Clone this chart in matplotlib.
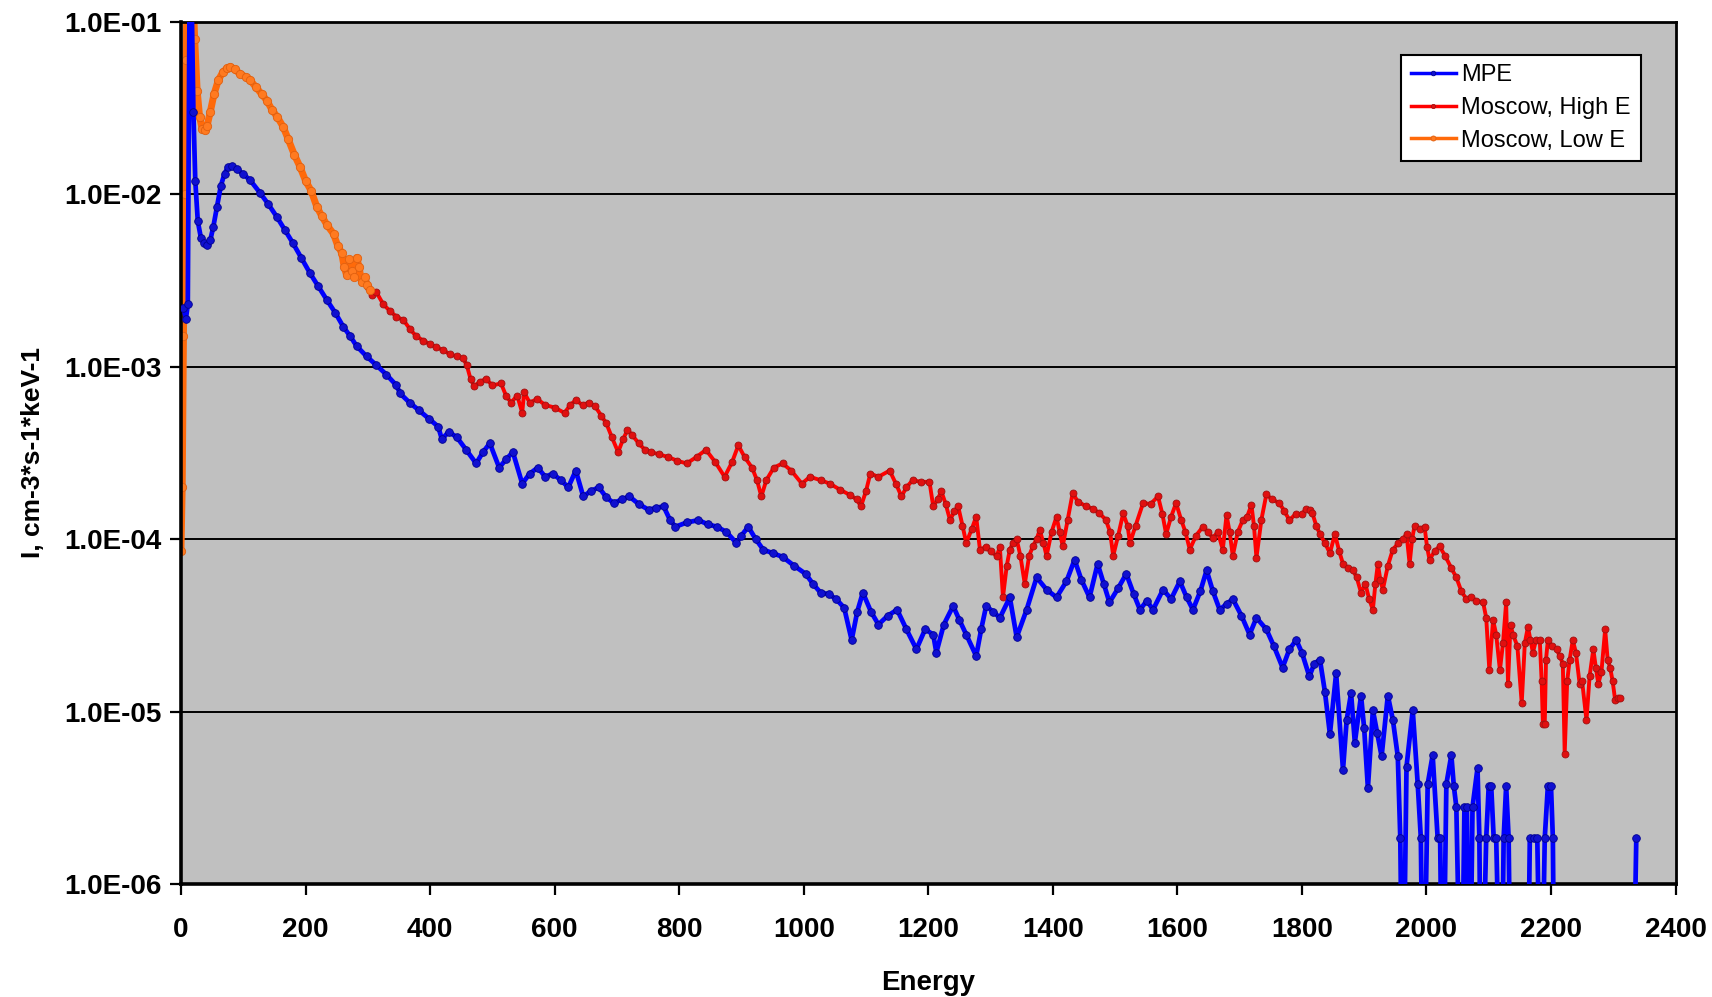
import matplotlib

matplotlib.use("Agg")

import matplotlib.pyplot as plt
import numpy as np
from matplotlib.ticker import FixedLocator, FuncFormatter, NullLocator

# values (zeros are empty channels)
mpe_energy = [
    4, 8, 11, 14, 17, 20, 23, 27, 32, 37, 42, 47, 52, 58, 64, 70, 76, 82, 90, 100,
    111, 127, 140, 154, 167, 180, 193, 207, 220, 234, 248, 261, 272, 282, 298, 314, 330, 346, 352, 367,
    382, 398, 413, 419, 430, 443, 458, 474, 485, 496, 511, 522, 533, 548, 560, 573, 585, 597, 610, 622,
    634, 646, 658, 671, 683, 695, 708, 720, 735, 751, 763, 775, 785, 794, 812, 831, 846, 861, 876, 892,
    900, 911, 923, 935, 950, 966, 985, 1003, 1015, 1027, 1040, 1052, 1065, 1077, 1086, 1095, 1108, 1120, 1135, 1150,
    1165, 1181, 1195, 1208, 1213, 1225, 1240, 1250, 1261, 1277, 1285, 1293, 1304, 1315, 1331, 1342, 1358, 1374, 1390, 1406,
    1422, 1435, 1446, 1459, 1472, 1482, 1491, 1505, 1518, 1530, 1540, 1551, 1561, 1577, 1590, 1604, 1615, 1625, 1637, 1647,
    1657, 1668, 1679, 1689, 1703, 1716, 1727, 1743, 1755, 1769, 1780, 1791, 1800, 1812, 1820, 1829, 1837, 1845, 1855, 1866,
    1872, 1879, 1885, 1895, 1900, 1906, 1914, 1921, 1928, 1938, 1946, 1954, 1958, 1962, 1968, 1978, 1986, 1991, 1995, 2002,
    2010, 2018, 2022, 2026, 2032, 2040, 2044, 2048, 2056, 2061, 2065, 2069, 2074, 2082, 2085, 2088, 2096, 2100, 2104, 2108,
    2112, 2120, 2124, 2128, 2132, 2136, 2150, 2162, 2166, 2172, 2178, 2184, 2190, 2195, 2200, 2203, 2206, 2250, 2300, 2331,
    2337,
]
mpe_intensity = [
    2.2e-3, 1.9e-3, 2.3e-3, 2.0e-1, 1.5e-1, 3.0e-2, 1.2e-2, 7.0e-3, 5.6e-3, 5.2e-3, 5.1e-3, 5.4e-3, 6.5e-3, 8.5e-3, 1.12e-2, 1.32e-2, 1.45e-2, 1.47e-2, 1.40e-2, 1.31e-2,
    1.21e-2, 1.02e-2, 8.8e-3, 7.4e-3, 6.2e-3, 5.2e-3, 4.3e-3, 3.5e-3, 2.95e-3, 2.45e-3, 2.05e-3, 1.7e-3, 1.5e-3, 1.32e-3, 1.15e-3, 1.02e-3, 9.0e-4, 7.8e-4, 7.0e-4, 6.2e-4,
    5.6e-4, 5.0e-4, 4.5e-4, 3.8e-4, 4.2e-4, 3.9e-4, 3.3e-4, 2.75e-4, 3.2e-4, 3.6e-4, 2.6e-4, 2.9e-4, 3.2e-4, 2.1e-4, 2.4e-4, 2.6e-4, 2.3e-4, 2.4e-4, 2.2e-4, 2.0e-4,
    2.5e-4, 1.77e-4, 1.9e-4, 2.0e-4, 1.75e-4, 1.62e-4, 1.7e-4, 1.77e-4, 1.6e-4, 1.48e-4, 1.52e-4, 1.55e-4, 1.3e-4, 1.18e-4, 1.25e-4, 1.29e-4, 1.22e-4, 1.18e-4, 1.1e-4, 9.5e-5,
    1.05e-4, 1.18e-4, 1.0e-4, 8.7e-5, 8.3e-5, 7.9e-5, 7.0e-5, 6.3e-5, 5.5e-5, 4.9e-5, 4.8e-5, 4.5e-5, 4.0e-5, 2.6e-5, 3.8e-5, 4.9e-5, 3.8e-5, 3.2e-5, 3.6e-5, 3.9e-5,
    3.0e-5, 2.3e-5, 3.0e-5, 2.8e-5, 2.2e-5, 3.2e-5, 4.1e-5, 3.4e-5, 2.8e-5, 2.1e-5, 3.0e-5, 4.1e-5, 3.8e-5, 3.5e-5, 4.6e-5, 2.7e-5, 3.9e-5, 6.0e-5, 5.1e-5, 4.6e-5,
    5.7e-5, 7.6e-5, 5.8e-5, 4.6e-5, 7.2e-5, 5.5e-5, 4.3e-5, 5.2e-5, 6.3e-5, 4.8e-5, 3.9e-5, 4.4e-5, 3.9e-5, 5.1e-5, 4.5e-5, 5.7e-5, 4.6e-5, 3.9e-5, 5.0e-5, 6.6e-5,
    5.0e-5, 3.9e-5, 4.2e-5, 4.5e-5, 3.6e-5, 2.8e-5, 3.5e-5, 3.0e-5, 2.4e-5, 1.8e-5, 2.3e-5, 2.6e-5, 2.2e-5, 1.6e-5, 1.9e-5, 2.0e-5, 1.3e-5, 7.4e-6, 1.67e-5, 4.6e-6,
    9.0e-6, 1.28e-5, 6.6e-6, 1.24e-5, 8.0e-6, 3.6e-6, 1.02e-5, 7.5e-6, 5.5e-6, 1.24e-5, 9.0e-6, 5.5e-6, 1.85e-6, 0, 4.8e-6, 1.02e-5, 3.8e-6, 1.85e-6, 0, 3.8e-6,
    5.6e-6, 1.85e-6, 1.85e-6, 0, 3.8e-6, 5.6e-6, 3.7e-6, 2.8e-6, 0, 2.8e-6, 2.8e-6, 0, 2.8e-6, 4.7e-6, 1.85e-6, 0, 1.85e-6, 3.7e-6, 3.7e-6, 1.85e-6,
    1.85e-6, 0, 1.85e-6, 3.7e-6, 1.85e-6, 0, 0, 0, 1.85e-6, 1.85e-6, 1.85e-6, 0, 1.85e-6, 3.7e-6, 3.7e-6, 1.85e-6, 0, 0, 0, 0,
    1.85e-6,
]

high_energy = [
    300, 307, 314, 325, 336, 346, 357, 368, 378, 389, 400, 410, 421, 432, 443, 453, 459, 465, 471, 480,
    490, 500, 514, 522, 530, 540, 548, 551, 560, 572, 585, 600, 616, 625, 634, 645, 655, 665, 675, 683,
    692, 702, 710, 717, 725, 735, 745, 755, 768, 782, 797, 812, 828, 843, 858, 873, 885, 895, 905, 917,
    925, 932, 940, 952, 966, 980, 997, 1010, 1027, 1042, 1058, 1075, 1085, 1092, 1100, 1107, 1120, 1138, 1148, 1157,
    1165, 1175, 1188, 1202, 1208, 1215, 1221, 1228, 1235, 1242, 1248, 1255, 1261, 1270, 1277, 1283, 1292, 1300, 1310, 1315,
    1320, 1326, 1331, 1336, 1342, 1348, 1355, 1362, 1368, 1374, 1379, 1385, 1390, 1398, 1406, 1411, 1416, 1424, 1432, 1440,
    1454, 1465, 1475, 1485, 1492, 1497, 1505, 1513, 1520, 1524, 1533, 1545, 1557, 1569, 1576, 1582, 1590, 1598, 1606, 1613,
    1620, 1630, 1641, 1649, 1657, 1665, 1673, 1679, 1684, 1689, 1697, 1705, 1712, 1719, 1723, 1727, 1735, 1743, 1752, 1764,
    1772, 1780, 1790, 1800, 1807, 1813, 1817, 1823, 1829, 1837, 1845, 1853, 1860, 1866, 1874, 1882, 1888, 1895, 1902, 1908,
    1914, 1918, 1922, 1926, 1930, 1938, 1946, 1955, 1962, 1968, 1973, 1977, 1981, 1989, 1997, 2001, 2005, 2013, 2021, 2030,
    2040, 2048, 2056, 2064, 2072, 2080, 2091, 2096, 2101, 2107, 2112, 2118, 2123, 2128, 2131, 2135, 2139, 2146, 2153, 2158,
    2163, 2167, 2171, 2176, 2182, 2185, 2187, 2190, 2192, 2195, 2202, 2209, 2214, 2219, 2222, 2226, 2230, 2235, 2240, 2246,
    2250, 2257, 2262, 2268, 2272, 2276, 2281, 2287, 2291, 2295, 2299, 2303, 2308, 2311,
]
high_intensity = [
    2.9e-3, 2.6e-3, 2.7e-3, 2.3e-3, 2.1e-3, 1.95e-3, 1.87e-3, 1.65e-3, 1.5e-3, 1.42e-3, 1.35e-3, 1.3e-3, 1.25e-3, 1.18e-3, 1.15e-3, 1.12e-3, 1.02e-3, 8.5e-4, 7.7e-4, 8.2e-4,
    8.5e-4, 7.8e-4, 8.0e-4, 6.8e-4, 6.2e-4, 6.8e-4, 5.4e-4, 7.1e-4, 6.2e-4, 6.5e-4, 6.0e-4, 5.8e-4, 5.4e-4, 6.0e-4, 6.4e-4, 6.0e-4, 6.2e-4, 5.9e-4, 5.2e-4, 4.7e-4,
    3.9e-4, 3.2e-4, 3.8e-4, 4.3e-4, 4.0e-4, 3.6e-4, 3.3e-4, 3.2e-4, 3.1e-4, 3.0e-4, 2.85e-4, 2.75e-4, 3.0e-4, 3.3e-4, 2.8e-4, 2.3e-4, 2.8e-4, 3.5e-4, 3.0e-4, 2.6e-4,
    2.2e-4, 1.77e-4, 2.2e-4, 2.6e-4, 2.75e-4, 2.5e-4, 2.1e-4, 2.3e-4, 2.2e-4, 2.1e-4, 1.94e-4, 1.8e-4, 1.7e-4, 1.55e-4, 1.9e-4, 2.4e-4, 2.3e-4, 2.5e-4, 2.1e-4, 1.77e-4,
    2.0e-4, 2.2e-4, 2.15e-4, 2.15e-4, 1.55e-4, 1.7e-4, 1.9e-4, 1.6e-4, 1.29e-4, 1.45e-4, 1.55e-4, 1.2e-4, 9.5e-5, 1.15e-4, 1.35e-4, 8.7e-5, 9.0e-5, 8.5e-5, 8.0e-5, 9.0e-5,
    4.6e-5, 7.0e-5, 8.7e-5, 9.5e-5, 1.0e-4, 8.0e-5, 5.5e-5, 8.0e-5, 9.1e-5, 1.0e-4, 1.13e-4, 9.5e-5, 8.0e-5, 1.1e-4, 1.35e-4, 1.1e-4, 9.1e-5, 1.3e-4, 1.86e-4, 1.65e-4,
    1.55e-4, 1.5e-4, 1.41e-4, 1.3e-4, 1.1e-4, 8.0e-5, 1.05e-4, 1.41e-4, 1.2e-4, 9.5e-5, 1.2e-4, 1.62e-4, 1.6e-4, 1.77e-4, 1.4e-4, 1.07e-4, 1.35e-4, 1.62e-4, 1.3e-4, 1.1e-4,
    8.7e-5, 1.05e-4, 1.18e-4, 1.1e-4, 1.02e-4, 1.1e-4, 8.7e-5, 1.38e-4, 1.1e-4, 8.0e-5, 1.1e-4, 1.29e-4, 1.35e-4, 1.58e-4, 1.2e-4, 7.8e-5, 1.3e-4, 1.82e-4, 1.7e-4, 1.62e-4,
    1.45e-4, 1.29e-4, 1.4e-4, 1.4e-4, 1.5e-4, 1.48e-4, 1.41e-4, 1.2e-4, 1.07e-4, 9.5e-5, 8.3e-5, 1.07e-4, 8.5e-5, 7.2e-5, 6.8e-5, 6.6e-5, 6.0e-5, 4.9e-5, 5.5e-5, 4.5e-5,
    3.9e-5, 5.5e-5, 7.2e-5, 5.8e-5, 5.1e-5, 7.0e-5, 8.7e-5, 9.5e-5, 1.0e-4, 1.07e-4, 7.2e-5, 1.0e-4, 1.2e-4, 1.15e-4, 1.18e-4, 9.0e-5, 7.6e-5, 8.5e-5, 9.1e-5, 8.0e-5,
    6.8e-5, 6.0e-5, 5.0e-5, 4.5e-5, 4.6e-5, 4.4e-5, 4.3e-5, 3.5e-5, 1.74e-5, 3.4e-5, 2.8e-5, 1.74e-5, 2.5e-5, 4.3e-5, 1.45e-5, 3.2e-5, 2.8e-5, 2.4e-5, 1.12e-5, 2.5e-5,
    3.1e-5, 2.6e-5, 2.2e-5, 2.6e-5, 2.6e-5, 1.5e-5, 8.5e-6, 8.5e-6, 2.0e-5, 2.6e-5, 2.4e-5, 2.3e-5, 2.1e-5, 1.9e-5, 5.7e-6, 1.5e-5, 2.0e-5, 2.6e-5, 2.2e-5, 1.45e-5,
    1.5e-5, 8.9e-6, 1.6e-5, 2.3e-5, 1.8e-5, 1.45e-5, 1.7e-5, 3.0e-5, 2.0e-5, 1.8e-5, 1.5e-5, 1.17e-5, 1.2e-5, 1.2e-5,
]

low_energy = [
    0, 2, 4, 6, 8, 10, 14, 18, 22, 26, 30, 34, 38, 42, 47, 53, 60, 67, 74, 79,
    86, 95, 104, 111, 120, 130, 138, 146, 155, 164, 172, 182, 191, 200, 209, 218, 226, 235, 245, 252,
    258, 262, 266, 270, 274, 278, 282, 286, 290, 295, 299, 303,
]
low_intensity = [
    8.5e-5, 2.0e-4, 1.5e-3, 1.0e-2, 6.0e-2, 1.5e-1, 3.0e-1, 2.0e-1, 8.0e-2, 4.0e-2, 2.8e-2, 2.4e-2, 2.35e-2, 2.5e-2, 3.0e-2, 3.8e-2, 4.6e-2, 5.1e-2, 5.4e-2, 5.5e-2,
    5.3e-2, 5.0e-2, 4.8e-2, 4.6e-2, 4.2e-2, 3.8e-2, 3.5e-2, 3.1e-2, 2.8e-2, 2.47e-2, 2.1e-2, 1.7e-2, 1.45e-2, 1.2e-2, 1.05e-2, 8.5e-3, 7.5e-3, 6.6e-3, 5.9e-3, 5.0e-3,
    4.6e-3, 3.8e-3, 3.4e-3, 4.2e-3, 3.6e-3, 3.3e-3, 4.3e-3, 3.8e-3, 3.1e-3, 3.3e-3, 3.0e-3, 2.8e-3,
]

x_ticks = [0, 200, 400, 600, 800, 1000, 1200, 1400, 1600, 1800, 2000, 2200, 2400]
y_ticks = [1e-6, 1e-5, 1e-4, 1e-3, 1e-2, 1e-1]


def _floor_zeros(values: list[float]) -> np.ndarray:
    # empty channels are drawn down to the bottom edge like in the spreadsheet chart
    arr = np.asarray(values, dtype=float)
    return np.where(arr > 0, arr, 1e-7)


plt.rcParams["font.family"] = ["Liberation Sans", "DejaVu Sans"]

fig = plt.figure(figsize=(17.12, 9.97), dpi=100)
ax = fig.add_axes((0.1057, 0.1133, 0.873, 0.8647))
ax.set_facecolor("#c0c0c0")

ax.plot(mpe_energy, _floor_zeros(mpe_intensity), color="#0000ff", linewidth=3.4,
        marker="o", markersize=5.5, markerfacecolor="#1010d0", markeredgecolor="#000090",
        markeredgewidth=0.6, label="MPE", zorder=3)
ax.plot(high_energy, _floor_zeros(high_intensity), color="#ff0000", linewidth=2.8,
        marker="o", markersize=5, markerfacecolor="#e01010", markeredgecolor="#a01010",
        markeredgewidth=0.6, label="Moscow, High E", zorder=2)
ax.plot(low_energy, _floor_zeros(low_intensity), color="#ff6a0a", linewidth=5.0,
        marker="o", markersize=6, markerfacecolor="#ff7a20", markeredgecolor="#e06010",
        markeredgewidth=0.6, label="Moscow, Low E", zorder=2)

ax.set_yscale("log")
ax.set_xlim(0, 2400)
ax.set_ylim(1e-6, 1e-1)
ax.xaxis.set_major_locator(FixedLocator(x_ticks))
ax.yaxis.set_major_locator(FixedLocator(y_ticks))
ax.yaxis.set_minor_locator(NullLocator())
ax.xaxis.set_minor_locator(NullLocator())
ax.yaxis.set_major_formatter(FuncFormatter(lambda v, _: f"{v:.1E}"))
ax.grid(True, axis="y", color="black", linewidth=1.4)
ax.set_axisbelow(True)

for side in ("left", "bottom"):
    ax.spines[side].set_linewidth(2.6)
for side in ("top", "right"):
    ax.spines[side].set_linewidth(2.0)

ax.tick_params(axis="both", direction="out", length=8, width=1.6, labelsize=20, pad=6)
ax.tick_params(axis="x", pad=16)
for label in ax.get_xticklabels() + ax.get_yticklabels():
    label.set_fontweight("bold")

ax.set_xlabel("Energy", fontsize=20, fontweight="bold", labelpad=19)
ax.set_ylabel("I, cm-3*s-1*keV-1", fontsize=19, fontweight="bold", labelpad=14)

legend_handles = ax.get_legend_handles_labels()
legend = ax.legend(*legend_handles, loc="upper right", bbox_to_anchor=(0.9766, 0.9617), fontsize=17,
                   frameon=True, fancybox=False, framealpha=1.0, edgecolor="black",
                   handlelength=1.9, handletextpad=0.25, borderpad=0.4, labelspacing=0.45,
                   borderaxespad=0.0, markerscale=0.6)
legend.get_frame().set_linewidth(1.5)
for handle in legend.get_lines():
    handle.set_linewidth(2.5)

fig.savefig("out.png", dpi=100)
